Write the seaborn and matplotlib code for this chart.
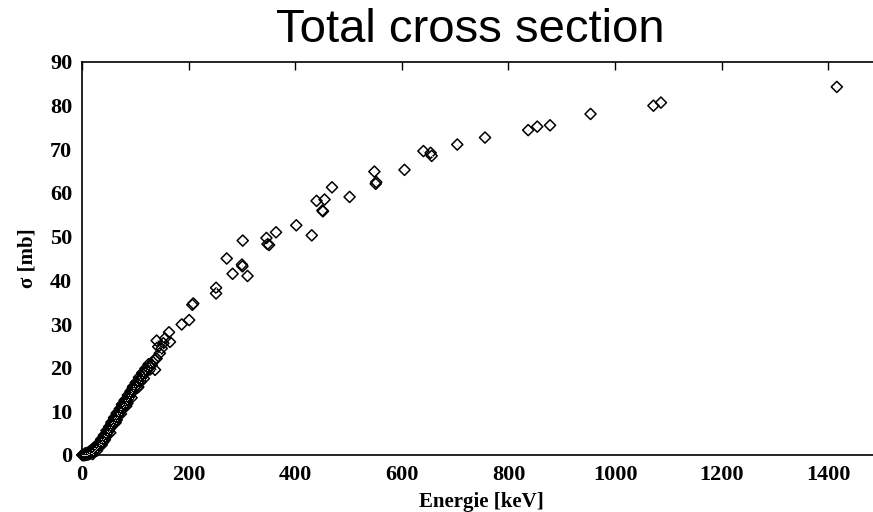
import matplotlib
matplotlib.use("Agg")
import pandas as pd
import matplotlib.pyplot as plt
import seaborn as sns

energy_low = [0.5, 1, 2, 3, 4, 5, 6, 8, 10, 12, 14, 16, 18, 20, 22, 24, 26, 28, 30,
              32, 34, 36, 38, 40, 42, 44, 46, 48, 50, 52, 54, 56, 58, 60, 62, 64, 66,
              68, 70, 72, 74, 76, 78, 80, 82, 84, 86, 88, 90, 92, 94, 96, 98, 100,
              103, 106, 109, 112, 115, 118, 121, 124, 127, 130, 133, 136,
              25, 35, 40, 45, 55, 60, 65, 65, 75, 80, 85, 95, 110, 125]
sigma_low = [0, 0, 0, 0, 0, 0, 0, 0.05, 0.1, 0.15, 0.25, 0.35, 0.5, 0.7, 0.9, 1.1, 1.35, 1.6, 1.9,
             2.2, 2.5, 2.9, 3.2, 3.6, 4.0, 4.4, 4.8, 5.2, 5.6, 6.0, 6.4, 6.8, 7.2, 7.6, 8.0, 8.4, 8.8,
             9.2, 9.6, 10.0, 10.5, 10.9, 11.3, 11.7, 12.1, 12.5, 12.9, 13.3, 13.7, 14.1, 14.5, 14.9, 15.3, 15.7,
             16.3, 16.9, 17.4, 17.9, 18.4, 18.9, 19.4, 19.9, 20.3, 20.8, 21.3, 21.8,
             1.6, 2.5, 3.0, 4.3, 7.3, 8.5, 8.0, 9.5, 11.5, 12.5, 11.8, 15.3, 16.8, 20.8]

# extra measurements in the same region, spread slightly around the main band
energy_spread = [6, 10, 14, 18, 22, 27, 31, 36, 41, 46, 51, 56, 61, 66, 71, 76, 81, 86, 91,
                 96, 101, 107, 113, 119, 20, 28, 37, 43, 53, 63, 73, 83, 93, 104, 116, 128]
sigma_spread = [0.4, 0.5, 0.8, 1.2, 1.6, 2.1, 2.7, 3.6, 4.5, 5.6, 6.5, 7.6, 8.6, 9.7, 10.6, 11.7,
                12.6, 13.7, 14.6, 15.7, 16.6, 17.8, 18.8, 19.8, 0.2, 1.0, 2.3, 3.5, 5.1, 7.4, 9.4,
                11.2, 13.1, 15.4, 17.5, 19.6]

# scattered points above ~100 keV
energy_high = [105.6, 118, 130.7, 137, 140, 143, 146, 149.5, 152.6, 140, 155.7, 165, 163.2,
               187, 201, 208.8, 207, 251.5, 251.5, 271.5, 282.5, 300, 301, 301.5, 310.5,
               346, 348, 351, 364, 402, 431, 440, 455, 451, 452, 469, 502, 548.5, 552, 551,
               605, 640.5, 654, 656, 704, 756, 837, 854, 878, 954, 1072, 1086, 1416]
sigma_high = [15.6, 18.7, 20.6, 19.5, 22.1, 24.8, 23.3, 24.4, 25.6, 26.2, 26.7, 25.9, 28.1,
              29.9, 30.9, 34.7, 34.4, 38.3, 37.0, 45.0, 41.5, 43.6, 43.2, 49.1, 41.0,
              49.7, 48.3, 48.1, 51.0, 52.6, 50.3, 58.2, 58.5, 56.0, 55.8, 61.3, 59.1, 64.9, 62.5, 62.1,
              65.3, 69.6, 69.2, 68.5, 71.1, 72.7, 74.4, 75.2, 75.5, 78.1, 80.0, 80.7, 84.3]

df = pd.DataFrame({"energy": energy_low + energy_spread + energy_high,
                   "sigma": sigma_low + sigma_spread + sigma_high})

sns.set_theme(style="white")
plt.rcParams["font.family"] = ["Liberation Serif", "DejaVu Serif"]
plt.rcParams["text.color"] = "black"
plt.rcParams["axes.labelcolor"] = "black"

fig = plt.figure(figsize=(8.73, 5.12), dpi=100)
ax = fig.add_axes([82 / 873, 57 / 512, (881.6 - 82) / 873, 393 / 512])

sns.scatterplot(data=df, x="energy", y="sigma", marker="D", s=32,
                facecolor="none", edgecolor="black", linewidth=1.1,
                ax=ax, clip_on=False, zorder=3)
sns.scatterplot(data=df, x="energy", y="sigma", marker=".", s=2,
                color="black", linewidth=0, ax=ax, clip_on=False, zorder=4)

ax.set_xlim(0, 1500)
ax.set_ylim(0, 90)
ax.set_xticks(range(0, 1401, 200))
ax.set_yticks(range(0, 91, 10))
ax.tick_params(direction="in", length=6, width=1, top=True, right=True,
               labelsize=16, pad=7, colors="black")
for lab in ax.get_xticklabels() + ax.get_yticklabels():
    lab.set_fontweight("bold")
for sp in ax.spines.values():
    sp.set_color("black")
    sp.set_linewidth(1.2)

ax.set_xlabel("Energie [keV]", fontsize=15, fontweight="bold")
ax.set_ylabel("σ [mb]", fontsize=15, fontweight="bold")
ax.xaxis.set_label_coords(0.5, -0.094)
ax.yaxis.set_label_coords(-0.056, 0.5)

fig.text(470 / 873, 1 - 30 / 512, "Total cross section", ha="center", va="center",
         fontsize=34, color="black", family=["Liberation Sans", "DejaVu Sans"])

fig.savefig("out.png", dpi=100)
